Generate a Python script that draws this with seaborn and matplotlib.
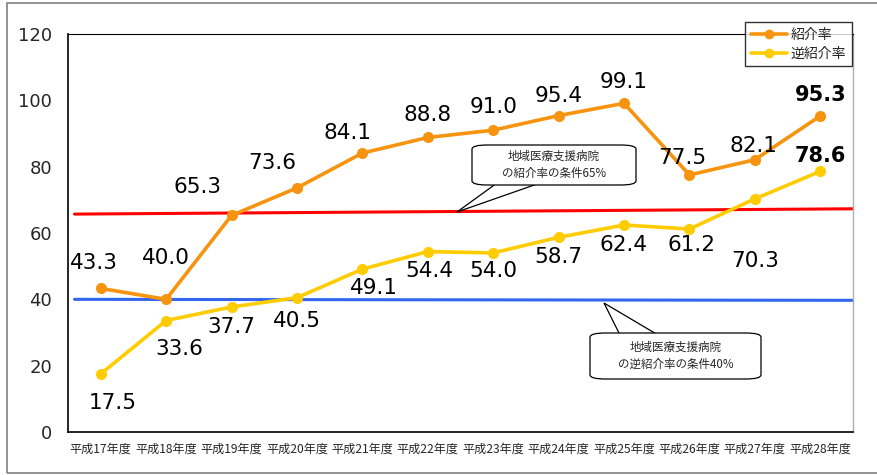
import matplotlib
matplotlib.use("Agg")
import matplotlib.pyplot as plt
import seaborn as sns
import pandas as pd
from matplotlib.patches import FancyBboxPatch, Polygon, Rectangle
from matplotlib.lines import Line2D

years = ["平成17年度", "平成18年度", "平成19年度", "平成20年度", "平成21年度", "平成22年度",
         "平成23年度", "平成24年度", "平成25年度", "平成26年度", "平成27年度", "平成28年度"]
shokai = [43.3, 40.0, 65.3, 73.6, 84.1, 88.8, 91.0, 95.4, 99.1, 77.5, 82.1, 95.3]
gyaku = [17.5, 33.6, 37.7, 40.5, 49.1, 54.4, 54.0, 58.7, 62.4, 61.2, 70.3, 78.6]
series_names = ["紹介率", "逆紹介率"]
cond_shokai = [65.7, 67.3]   # red reference line (left, right)
cond_gyaku = [40.0, 39.7]    # blue reference line (left, right)
yticks = [0, 20, 40, 60, 80, 100, 120]
note1 = "地域医療支援病院\nの紹介率の条件65%"
note2 = "地域医療支援病院\nの逆紹介率の条件40%"

ORANGE = "#F7940F"
YELLOW = "#FFCC00"

sns.set_style("white")
plt.rcParams["font.family"] = ["DejaVu Sans", "Noto Sans CJK JP"]

fig = plt.figure(figsize=(8.78, 4.75), dpi=100)
ax = fig.add_axes([68/878, 1-432/475, 785/878, 398/475])

df = pd.DataFrame({
    "year": years * 2,
    "value": shokai + gyaku,
    "series": [series_names[0]] * len(years) + [series_names[1]] * len(years),
})
sns.lineplot(data=df, x="year", y="value", hue="series",
             palette=[ORANGE, YELLOW], marker="o", markersize=8,
             markeredgewidth=0, linewidth=2.6, ax=ax, legend=False, sort=False)

ax.set_xlim(-0.5, len(years) - 0.5)
ax.set_ylim(0, 120)
ax.set_yticks(yticks)
ax.set_yticklabels([str(v) for v in yticks], fontsize=13)
ax.set_xticks(range(len(years)))
ax.set_xticklabels(years, fontsize=8.7, family=["Noto Sans CJK JP"])
ax.set_xticks([i - 0.5 for i in range(len(years) + 1)], minor=True)
ax.tick_params(axis="x", which="major", length=0, pad=8)
ax.tick_params(axis="x", which="minor", direction="in", length=5, width=1, color="black")
ax.tick_params(axis="y", direction="in", length=5, width=1, color="#808080", pad=11.5)
ax.set_xlabel("")
ax.set_ylabel("")

for s in ["left", "bottom", "top"]:
    ax.spines[s].set_color("black")
    ax.spines[s].set_linewidth(1.2)
ax.spines["top"].set_linewidth(0.8)
ax.spines["right"].set_color("#b0b0b0")
ax.spines["right"].set_linewidth(1.0)

# reference lines
ax.plot([-0.4, len(years) - 0.5], cond_shokai, color="#FF0000", linewidth=2.2, zorder=1)
ax.plot([-0.4, len(years) - 0.5], cond_gyaku, color="#3366EE", linewidth=2.2, zorder=1)

# data labels (offsets in pixels)
off_s = [(-7, 25), (0, 41), (-34, 28), (-25, 25), (-15, 20), (0, 22), (0, 23), (0, 20),
         (0, 21), (-7, 17), (-1, 14), (0, 21)]
off_g = [(12, -29), (13, -28), (0, -20), (0, -23), (12, -19), (2, -19), (0, -18), (0, -20),
         (0, -20), (2, -16), (0, -62), (0, 15)]
for i, (v, o) in enumerate(zip(shokai, off_s)):
    bold = i == len(shokai) - 1
    ax.annotate(f"{v:.1f}", (i, v), xytext=o, textcoords="offset pixels",
                ha="center", va="center", fontsize=15 if bold else 15.5,
                fontweight="bold" if bold else "normal", color="black", zorder=5)
for i, (v, o) in enumerate(zip(gyaku, off_g)):
    bold = i == len(gyaku) - 1
    ax.annotate(f"{v:.1f}", (i, v), xytext=o, textcoords="offset pixels",
                ha="center", va="center", fontsize=15 if bold else 15.5,
                fontweight="bold" if bold else "normal", color="black", zorder=5)

# callouts (pixel-based layout converted to axes fraction)
def ax_x(px):
    return (px - 68) / 785

def ax_y(py):
    return (432 - py) / 398

def callout(x0, y0, x1, y1, tail, text):
    tri = Polygon(tail, closed=True, transform=ax.transAxes, facecolor="white",
                  edgecolor="black", linewidth=0.9, zorder=6, clip_on=False)
    ax.add_patch(tri)
    box = FancyBboxPatch((ax_x(x0), ax_y(y1)), ax_x(x1) - ax_x(x0), ax_y(y0) - ax_y(y1),
                         boxstyle="round,pad=0,rounding_size=0.02", transform=ax.transAxes,
                         facecolor="white", edgecolor="black", linewidth=0.9, zorder=7,
                         mutation_aspect=398/785)
    ax.add_patch(box)
    ax.text((ax_x(x0) + ax_x(x1)) / 2, (ax_y(y0) + ax_y(y1)) / 2, text,
            transform=ax.transAxes, ha="center", va="center", fontsize=8.3,
            family=["Noto Sans CJK JP"], linespacing=1.35, zorder=8)

callout(472, 145, 636, 185,
        [(ax_x(497), ax_y(183)), (ax_x(457), ax_y(212)), (ax_x(540), ax_y(183))], note1)
callout(590, 333, 761, 379,
        [(ax_x(620), ax_y(335)), (ax_x(604), ax_y(303)), (ax_x(658), ax_y(335))], note2)

# legend
handles = [Line2D([], [], color=c, marker="o", markersize=6, linewidth=2.6)
           for c in [ORANGE, YELLOW]]
leg = fig.legend(handles, series_names, loc="upper right",
                 bbox_to_anchor=(852/878, 1 - 22/475), bbox_transform=fig.transFigure,
                 prop={"family": ["Noto Sans CJK JP"], "size": 10}, frameon=True,
                 fancybox=False, edgecolor="black", handlelength=2.6, handletextpad=0.3,
                 borderpad=0.4, labelspacing=0.35, borderaxespad=0)
leg.get_frame().set_linewidth(1.0)

# outer border
fig.patches.append(Rectangle((7/878, 1 - 473/475), 880/878, 470/475,
                             transform=fig.transFigure, fill=False,
                             edgecolor="#808080", linewidth=1.2))

fig.savefig("out.png", dpi=100)
